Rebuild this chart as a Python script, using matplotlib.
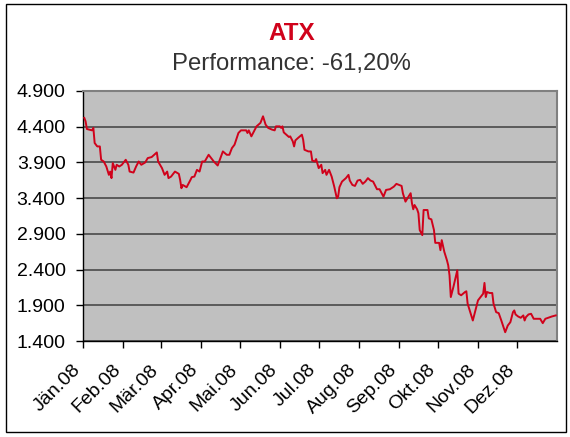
import numpy as np
import matplotlib
matplotlib.use("Agg")
import matplotlib.pyplot as plt
import matplotlib.transforms as mtransforms
from matplotlib.patches import Rectangle
from matplotlib.ticker import FuncFormatter

plt.rcParams['font.family'] = ['Liberation Sans', 'DejaVu Sans']

# ATX Schlusskurse 2008 (Tage ab 1.1.2008)
tage = [1, 2, 3, 7, 8, 9, 11, 13, 14, 16, 18, 20, 21, 22, 23, 25, 26, 28, 30, 32,
        33, 35, 36, 39, 41, 43, 45, 48, 50, 53, 55, 57, 58, 61, 63, 65, 66, 68, 71, 74,
        75, 76, 77, 80, 83, 84, 86, 88, 90, 92, 94, 97, 99, 101, 104, 108, 111, 113, 115, 117,
        120, 122, 126, 127, 128, 130, 134, 137, 139, 141, 143, 146, 148, 149, 152, 153, 154, 155, 157, 159,
        160, 162, 163, 164, 166, 169, 170, 171, 174, 176, 177, 179, 180, 182, 184, 185, 187, 188, 190, 192,
        194, 196, 197, 198, 200, 203, 205, 206, 208, 210, 212, 214, 216, 218, 220, 222, 224, 227, 229, 232,
        234, 237, 240, 242, 246, 247, 249, 251, 253, 254, 255, 256, 258, 259, 260, 262, 263, 266, 267, 269,
        271, 272, 275, 276, 277, 279, 281, 282, 283, 284, 286, 289, 290, 292, 295, 296, 297, 299, 301, 303,
        305, 307, 309, 310, 311, 312, 314, 316, 317, 319, 321, 323, 326, 328, 330, 332, 333, 334, 336, 338,
        340, 341, 342, 344, 346, 348, 351, 353, 355, 357, 362, 365]
werte = [4523, 4475, 4368, 4349, 4383, 4172, 4124, 4124, 3937, 3913, 3843, 3726, 3772, 3680, 3890, 3796, 3867, 3843, 3867, 3913,
         3937, 3867, 3772, 3758, 3843, 3913, 3867, 3899, 3961, 3975, 4007, 4040, 3913, 3820, 3726, 3772, 3680, 3702, 3772, 3740,
         3656, 3539, 3585, 3553, 3656, 3694, 3702, 3796, 3772, 3913, 3913, 4007, 3961, 3913, 3857, 4054, 4007, 4007, 4101, 4148,
         4312, 4349, 4349, 4312, 4349, 4265, 4405, 4453, 4546, 4429, 4383, 4359, 4349, 4405, 4405, 4383, 4405, 4321, 4288, 4256,
         4265, 4194, 4124, 4209, 4242, 4288, 4218, 4077, 4054, 4054, 3927, 3913, 3947, 3820, 3867, 3750, 3796, 3726, 3796, 3702,
         3561, 3398, 3421, 3553, 3632, 3680, 3726, 3646, 3585, 3571, 3646, 3656, 3600, 3632, 3680, 3646, 3632, 3525, 3525, 3421,
         3515, 3525, 3561, 3600, 3571, 3469, 3351, 3412, 3469, 3328, 3244, 3304, 3244, 3188, 2953, 2882, 3234, 3234, 3117, 3103,
         2953, 2774, 2774, 2671, 2812, 2648, 2531, 2460, 2320, 2015, 2156, 2390, 2063, 2040, 2086, 2096, 1922, 1804, 1687, 1828,
         1969, 2015, 2063, 2213, 2015, 2086, 2072, 2072, 1922, 1804, 1790, 1687, 1523, 1617, 1664, 1804, 1828, 1772, 1743, 1725,
         1758, 1687, 1734, 1772, 1781, 1711, 1711, 1711, 1650, 1711, 1743, 1758]

monate = ["Jän.08", "Feb.08", "Mär.08", "Apr.08", "Mai.08", "Jun.08",
          "Jul.08", "Aug.08", "Sep.08", "Okt.08", "Nov.08", "Dez.08"]
y_ticks = [1400, 1900, 2400, 2900, 3400, 3900, 4400, 4900]

rot = '#D0021B'

datum = np.datetime64('2008-01-01') + np.array(tage).astype('timedelta64[D]')
monatsanfang = np.arange('2008-01', '2009-01', dtype='datetime64[M]').astype('datetime64[D]')

fig = plt.figure(figsize=(5.7, 4.37), dpi=100)
ax = fig.add_axes([83 / 570, 1 - 341 / 437, 474 / 570, 250 / 437])

ax.set_facecolor('#C0C0C0')
ax.plot(datum, werte, color=rot, lw=1.4, zorder=3)

ax.set_xlim(np.datetime64('2008-01-01'), np.datetime64('2009-01-01'))
ax.set_ylim(1400, 4900)
ax.set_yticks(y_ticks)
ax.yaxis.set_major_formatter(FuncFormatter(lambda v, p: f"{v:,.0f}".replace(",", ".")))
ax.set_xticks(monatsanfang)
ax.set_xticklabels(monate, rotation=45, ha='right', rotation_mode='anchor')

ax.grid(axis='y', color='#404040', lw=1.1, zorder=1)
ax.tick_params(axis='y', direction='out', length=5, width=1, labelsize=14, pad=7.5)
ax.tick_params(axis='x', direction='out', length=5, width=1, labelsize=14, pad=6)

# Monatsbeschriftung etwas nach links unten verschieben
versatz = mtransforms.ScaledTranslation(-11 / 100, -5 / 100, fig.dpi_scale_trans)
for lbl in ax.get_xticklabels():
    lbl.set_transform(lbl.get_transform() + versatz)

for s in ['left', 'bottom']:
    ax.spines[s].set_color('black')
    ax.spines[s].set_linewidth(1)
for s in ['top', 'right']:
    ax.spines[s].set_color('#808080')
    ax.spines[s].set_linewidth(1.5)

# Titel
fig.text(292 / 570, 1 - 33 / 437, "ATX", color=rot, fontsize=17.5, fontweight='bold',
         ha='center', va='center')
fig.text(291 / 570, 1 - 64 / 437, "Performance: -61,20%", color='#333333', fontsize=17.2,
         ha='center', va='center')

# Rahmen um das ganze Diagramm
fig.add_artist(Rectangle((6 / 570, 5 / 437), 560 / 570, 428 / 437, transform=fig.transFigure,
                         fill=False, ec='black', lw=1))

fig.savefig('out.png', dpi=100)
